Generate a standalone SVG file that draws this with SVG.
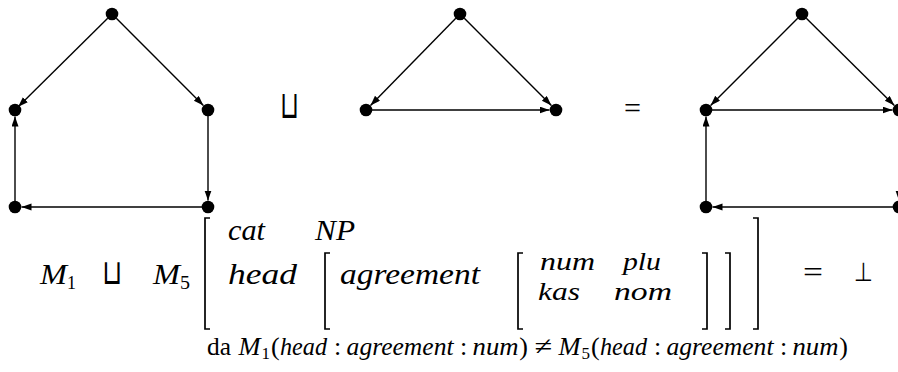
<svg xmlns="http://www.w3.org/2000/svg" width="898" height="372" viewBox="0 0 898 372">
<style>
.n{fill:#000}
.e{stroke:#000;stroke-width:1.4;fill:none;marker-end:url(#ah)}
.br{stroke:#000;stroke-width:1.7;fill:none}
.mi{font-family:"Liberation Serif","DejaVu Serif",serif;font-style:italic;font-size:29px;fill:#000}
.mi2{font-family:"Liberation Serif","DejaVu Serif",serif;font-style:italic;font-size:26px;fill:#000}
.rm{font-family:"Liberation Serif","DejaVu Serif",serif;font-size:29px;fill:#000}
.sub{font-family:"Liberation Serif","DejaVu Serif",serif;font-size:19px;fill:#000}
.sym{font-family:"DejaVu Sans",sans-serif;fill:#000}
.bi{font-family:"Liberation Serif","DejaVu Serif",serif;font-style:italic;font-size:26px;fill:#000}
.br2{font-family:"Liberation Serif","DejaVu Serif",serif;font-size:26px;fill:#000}
.bs{font-family:"Liberation Serif","DejaVu Serif",serif;font-size:17px;fill:#000}
</style>
<defs>
<marker id="ah" markerUnits="userSpaceOnUse" markerWidth="11" markerHeight="8" refX="10" refY="3.5" orient="auto">
<path d="M0,0 L10,3.5 L0,7 z" fill="#000"/>
</marker>
</defs>
<rect width="898" height="372" fill="#fff"/>
<g id="connectors">
<line class="e" x1="107.7" y1="18.2" x2="18.2" y2="106.8"/>
<line class="e" x1="116.3" y1="18.3" x2="203.4" y2="105.4"/>
<line class="e" x1="208" y1="116" x2="208" y2="200.5"/>
<line class="e" x1="202" y1="207" x2="21.5" y2="207"/>
<line class="e" x1="15" y1="201" x2="15" y2="116.5"/>
<line class="e" x1="455.8" y1="18.3" x2="370.5" y2="105.4"/>
<line class="e" x1="464.3" y1="18.3" x2="551.4" y2="105.4"/>
<line class="e" x1="372" y1="110" x2="549.5" y2="110"/>
<line class="e" x1="797.7" y1="18.3" x2="710.6" y2="105.4"/>
<line class="e" x1="806.3" y1="18.2" x2="894.4" y2="105.4"/>
<line class="e" x1="712" y1="110" x2="892.5" y2="110"/>
<line class="e" x1="899" y1="116" x2="899" y2="200.5"/>
<line class="e" x1="893" y1="207" x2="712.5" y2="207"/>
<line class="e" x1="706" y1="201" x2="706" y2="116.5"/>
</g>
<g id="g1a"><circle class="n" cx="112" cy="14" r="6.3"/></g>
<g id="g1b"><circle class="n" cx="15" cy="110" r="6.3"/></g>
<g id="g1c"><circle class="n" cx="208" cy="110" r="6.3"/></g>
<g id="g1d"><circle class="n" cx="15" cy="207" r="6.3"/></g>
<g id="g1e"><circle class="n" cx="208" cy="207" r="6.3"/></g>
<g id="g2a"><circle class="n" cx="460" cy="14" r="6.3"/></g>
<g id="g2b"><circle class="n" cx="366" cy="110" r="6.3"/></g>
<g id="g2c"><circle class="n" cx="556" cy="110" r="6.3"/></g>
<g id="g3a"><circle class="n" cx="802" cy="14" r="6.3"/></g>
<g id="g3b"><circle class="n" cx="706" cy="110" r="6.3"/></g>
<g id="g3c"><circle class="n" cx="899" cy="110" r="6.3"/></g>
<g id="g3d"><circle class="n" cx="706" cy="207" r="6.3"/></g>
<g id="g3e"><circle class="n" cx="899" cy="207" r="6.3"/></g>
<g id="ops">
<text class="sym" transform="translate(280,118) scale(1,1.6)" x="0" y="0" font-size="24" textLength="19" lengthAdjust="spacingAndGlyphs">⊔</text>
<text class="rm" x="624" y="118" font-size="28" textLength="17" lengthAdjust="spacingAndGlyphs">=</text>
</g>
<g id="formula">
<text class="mi" x="40" y="284" textLength="27" lengthAdjust="spacingAndGlyphs">M</text>
<text class="sub" x="67" y="289" textLength="9" lengthAdjust="spacingAndGlyphs">1</text>
<text class="sym" transform="translate(102,284) scale(1,1.45)" x="0" y="0" font-size="24" textLength="20" lengthAdjust="spacingAndGlyphs">⊔</text>
<text class="mi" x="153" y="284" textLength="27" lengthAdjust="spacingAndGlyphs">M</text>
<text class="sub" x="180" y="289" textLength="10" lengthAdjust="spacingAndGlyphs">5</text>
<path class="br" d="M210,218 H205 V329 H210"/>
<text class="mi" x="228" y="240" textLength="37" lengthAdjust="spacingAndGlyphs">cat</text>
<text class="mi" x="315" y="240" textLength="40" lengthAdjust="spacingAndGlyphs">NP</text>
<text class="mi" x="228" y="284" textLength="69" lengthAdjust="spacingAndGlyphs">head</text>
<path class="br" d="M330,253 H325 V329 H330"/>
<text class="mi" x="340" y="284" textLength="140" lengthAdjust="spacingAndGlyphs">agreement</text>
<path class="br" d="M523,253 H518 V329 H523"/>
<text class="mi2" x="540" y="270" textLength="55" lengthAdjust="spacingAndGlyphs">num</text>
<text class="mi2" x="623" y="270" textLength="38" lengthAdjust="spacingAndGlyphs">plu</text>
<text class="mi2" x="538" y="300" textLength="42" lengthAdjust="spacingAndGlyphs">kas</text>
<text class="mi2" x="614" y="300" textLength="58" lengthAdjust="spacingAndGlyphs">nom</text>
<path class="br" d="M702,253 H707 V329 H702"/>
<path class="br" d="M725,253 H730 V329 H725"/>
<path class="br" d="M753,218 H758 V329 H753"/>
<text class="rm" x="803" y="282" textLength="20" lengthAdjust="spacingAndGlyphs">=</text>
<text class="sym" x="854" y="281" font-size="26" textLength="19" lengthAdjust="spacingAndGlyphs">⊥</text>
</g>
<g id="caption">
<text class="br2" x="207" y="355" textLength="24" lengthAdjust="spacingAndGlyphs">da</text>
<text class="bi" x="238.6" y="355" textLength="22" lengthAdjust="spacingAndGlyphs">M</text>
<text class="bs" x="261.5" y="359">1</text>
<text class="br2" x="271" y="355">(</text>
<text class="bi" x="280" y="355" textLength="47" lengthAdjust="spacingAndGlyphs">head</text>
<text class="br2" x="334" y="355">:</text>
<text class="bi" x="346.6" y="355" textLength="107" lengthAdjust="spacingAndGlyphs">agreement</text>
<text class="br2" x="460" y="355">:</text>
<text class="bi" x="472.6" y="355" textLength="46" lengthAdjust="spacingAndGlyphs">num</text>
<text class="br2" x="519.3" y="355">)</text>
<text class="br2" x="534.5" y="355" textLength="17.7" lengthAdjust="spacingAndGlyphs">≠</text>
<text class="bi" x="558.5" y="355" textLength="22" lengthAdjust="spacingAndGlyphs">M</text>
<text class="bs" x="581.5" y="359">5</text>
<text class="br2" x="591" y="355">(</text>
<text class="bi" x="600" y="355" textLength="47" lengthAdjust="spacingAndGlyphs">head</text>
<text class="br2" x="654" y="355">:</text>
<text class="bi" x="666.5" y="355" textLength="107" lengthAdjust="spacingAndGlyphs">agreement</text>
<text class="br2" x="780" y="355">:</text>
<text class="bi" x="792.5" y="355" textLength="46" lengthAdjust="spacingAndGlyphs">num</text>
<text class="br2" x="839.2" y="355">)</text>
</g>
</svg>
